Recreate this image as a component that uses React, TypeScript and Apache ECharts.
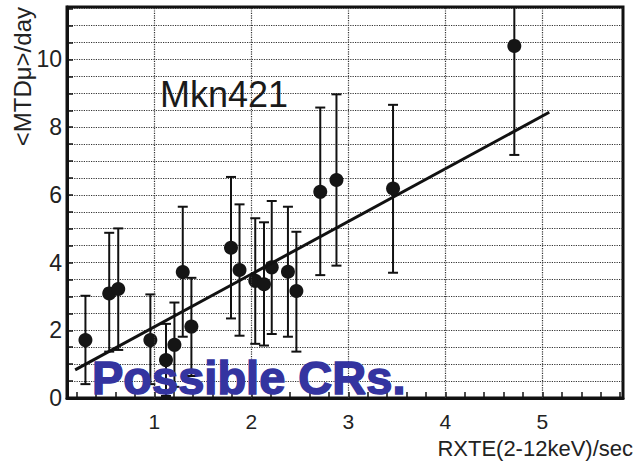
import React, { useEffect, useRef } from "react";
import * as echarts from "echarts";

const xValues = [0.29, 0.535, 0.628, 0.959, 1.12, 1.207, 1.293, 1.382, 1.79, 1.878, 2.04, 2.13, 2.21, 2.377, 2.464, 2.71, 2.877, 3.46, 4.71];
const yValues = [1.71, 3.09, 3.22, 1.71, 1.12, 1.57, 3.72, 2.11, 4.44, 3.78, 3.46, 3.36, 3.86, 3.73, 3.16, 6.09, 6.44, 6.19, 10.4];
const yLow = [0.41, 1.37, 1.42, 0.41, 0.06, 0.33, 1.81, 0.65, 2.35, 1.84, 1.6, 1.55, 1.89, 1.81, 1.37, 3.63, 3.91, 3.7, 7.18];
const yHigh = [3.02, 4.88, 5.01, 3.06, 2.19, 2.82, 5.65, 3.55, 6.53, 5.72, 5.31, 5.19, 5.82, 5.65, 4.91, 8.58, 8.97, 8.66, 13.6];

const fitX = [0.184, 5.07];
const fitY = [0.83, 8.44];

const xTickLabels = [1, 2, 3, 4, 5];
const xMinorTicks = [0.2, 0.4, 0.6, 0.8, 1, 1.2, 1.4, 1.6, 1.8, 2, 2.2, 2.4, 2.6, 2.8, 3, 3.2, 3.4, 3.6, 3.8, 4, 4.2, 4.4, 4.6, 4.8, 5, 5.2, 5.4, 5.6, 5.8];
const yTickLabels = [0, 2, 4, 6, 8, 10];
const yMinorTicks = [0.5, 1, 1.5, 2, 2.5, 3, 3.5, 4, 4.5, 5, 5.5, 6, 6.5, 7, 7.5, 8, 8.5, 9, 9.5, 10, 10.5, 11, 11.5];

const FONT = "Liberation Sans, Arial, sans-serif";

export default function App() {
  const ref = useRef<HTMLDivElement>(null);
  useEffect(() => {
    if (!ref.current) return;
    const chart = echarts.init(ref.current, undefined, { renderer: "svg" });
    const points = xValues.map((x, i) => [x, yValues[i]]);
    const bars = xValues.map((x, i) => [x, yLow[i], yHigh[i]]);
    const fit = fitX.map((x, i) => [x, fitY[i]]);
    chart.setOption({
      animation: false,
      backgroundColor: "#fff",
      grid: {
        left: 67,
        top: 7,
        right: 14,
        bottom: 64,
        show: true,
        borderColor: "#111",
        borderWidth: 3,
        backgroundColor: "transparent",
      },
      xAxis: {
        type: "value",
        min: 0.1,
        max: 5.83,
        axisLine: { show: true, lineStyle: { color: "#111", width: 3 } },
        axisTick: {
          show: true,
          inside: true,
          length: 6,
          customValues: xMinorTicks,
          lineStyle: { color: "#111", width: 1.5 },
        },
        axisLabel: {
          customValues: xTickLabels,
          fontSize: 21,
          color: "#222",
          fontFamily: FONT,
          margin: 13,
        },
        splitLine: { show: false },
      },
      yAxis: {
        type: "value",
        min: 0,
        max: 11.55,
        interval: 2,
        axisLine: { show: true, lineStyle: { color: "#111", width: 3 } },
        axisTick: {
          show: true,
          inside: true,
          length: 6,
          customValues: yMinorTicks,
          lineStyle: { color: "#111", width: 1.5 },
        },
        axisLabel: {
          customValues: yTickLabels,
          fontSize: 23,
          color: "#222",
          fontFamily: FONT,
          margin: 5,
        },
        splitLine: { show: true, lineStyle: { type: "dotted", color: "#333", width: 1.2 } },
      },
      series: [
        {
          type: "line",
          data: [],
          z: 1,
          markLine: {
            silent: true,
            symbol: "none",
            label: { show: false },
            lineStyle: { type: "dotted", color: "#333", width: 1.2 },
            data: xTickLabels.map((v) => ({ xAxis: v })),
          },
        },
        {
          type: "custom",
          clip: true,
          z: 3,
          data: bars,
          renderItem: (params: any, api: any) => {
            const x = api.value(0);
            const lo = api.coord([x, api.value(1)]);
            const hi = api.coord([x, api.value(2)]);
            const c = 5;
            const style = { stroke: "#111", lineWidth: 2 };
            return {
              type: "group",
              children: [
                { type: "line", shape: { x1: lo[0], y1: lo[1], x2: hi[0], y2: hi[1] }, style },
                { type: "line", shape: { x1: lo[0] - c, y1: lo[1], x2: lo[0] + c, y2: lo[1] }, style },
                { type: "line", shape: { x1: hi[0] - c, y1: hi[1], x2: hi[0] + c, y2: hi[1] }, style },
              ],
            };
          },
        },
        {
          type: "scatter",
          data: points,
          symbol: "circle",
          symbolSize: 14,
          z: 4,
          itemStyle: { color: "#151515", opacity: 1 },
        },
        {
          type: "line",
          data: fit,
          symbol: "none",
          z: 5,
          lineStyle: { color: "#111", width: 3 },
        },
      ],
      graphic: [
        {
          type: "text",
          x: 160,
          y: 94,
          z: 100,
          style: {
            text: "Mkn421",
            fontSize: 36,
            fontFamily: FONT,
            fill: "#1a1a1a",
            textAlign: "left",
            textVerticalAlign: "middle",
          },
        },
        {
          type: "text",
          x: 92,
          y: 377,
          z: 100,
          style: {
            text: "Possible CRs.",
            fontSize: 47,
            fontWeight: "bold",
            fontFamily: FONT,
            fill: "#3434a0",
            stroke: "#3434a0",
            lineWidth: 1.5,
            textAlign: "left",
            textVerticalAlign: "middle",
          },
        },
        {
          type: "text",
          x: 22,
          y: 7,
          rotation: Math.PI / 2,
          z: 100,
          style: {
            text: "<MTDμ>/day",
            fontSize: 24,
            fontFamily: FONT,
            fill: "#222",
            textAlign: "right",
            textVerticalAlign: "middle",
          },
        },
        {
          type: "text",
          x: 633,
          y: 448,
          z: 100,
          style: {
            text: "RXTE(2-12keV)/sec",
            fontSize: 22,
            fontFamily: FONT,
            fill: "#222",
            textAlign: "right",
            textVerticalAlign: "middle",
          },
        },
      ],
    });
    return () => chart.dispose();
  }, []);
  return <div ref={ref} style={{ width: 637, height: 462, position: "absolute", left: 0, top: 0 }} />;
}
